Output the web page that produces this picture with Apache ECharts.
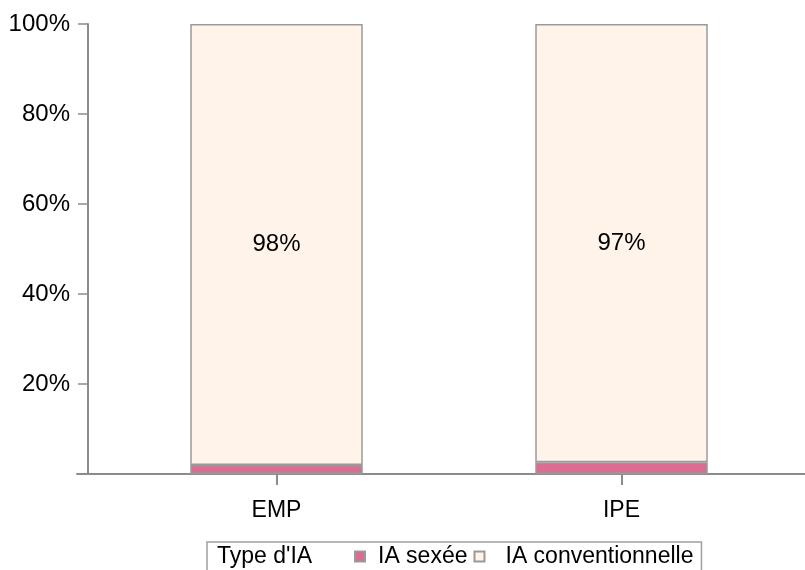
<!DOCTYPE html>
<html>
<head>
<meta charset="utf-8">
<title>Type d'IA</title>
<script src="https://cdn.jsdelivr.net/npm/echarts@6/dist/echarts.min.js"></script>
<style>
	html, body { margin: 0; padding: 0; background: #fff; }
	#chart { width: 805px; height: 570px; }
</style>
</head>
<body>
<div id="chart"></div>
<script>
var categories = ['EMP', 'IPE'];
var seriesNames = ['IA sexée', 'IA conventionnelle'];
var sexeeValues = [2.0, 2.6];
var convValues = [98.0, 97.4];
var yTicks = [0, 20, 40, 60, 80, 100];
var legendTitle = "Type d'IA";

;(function (win) {
	var chart = echarts.init(document.getElementById('chart'));
	var font = 'Liberation Sans, Arial, sans-serif';
	var axisGrey = '#8c8c8c';
	var option = {
		animation: false,
		textStyle: { fontFamily: font },
		title: {
			text: legendTitle,
			left: 212,
			top: 540,
			textStyle: { fontSize: 23, fontWeight: 'normal', color: '#000', fontFamily: font }
		},
		legend: {
			left: 207,
			top: 542,
			padding: [3, 8, 12, 147],
			borderColor: '#a0a0a0',
			borderWidth: 1.5,
			icon: 'rect',
			itemWidth: 10,
			itemHeight: 10,
			itemGap: 6,
			textStyle: { fontSize: 23, color: '#000', fontFamily: font, padding: [0, 0, 0, 8] },
			data: [
				{ name: seriesNames[0] },
				{ name: seriesNames[1], textStyle: { padding: [0, 0, 0, 16] } }
			]
		},
		grid: [
			{ left: 104, right: 11, top: 24, bottom: 96 },
			{ left: 77, right: 0, top: 24, bottom: 96 }
		],
		xAxis: [
			{
				type: 'category',
				gridIndex: 0,
				data: categories,
				axisLine: { show: false },
				axisTick: { show: true, alignWithLabel: true, length: 11, lineStyle: { color: axisGrey, width: 2 } },
				axisLabel: { fontSize: 23, color: '#000', margin: 25, fontFamily: font }
			},
			{
				type: 'value',
				gridIndex: 1,
				min: 0,
				max: 1,
				axisLine: { show: true, lineStyle: { color: axisGrey, width: 2 } },
				axisTick: { show: false },
				axisLabel: { show: false },
				splitLine: { show: false }
			}
		],
		yAxis: [
			{
				type: 'value',
				gridIndex: 0,
				min: yTicks[0],
				max: yTicks[yTicks.length - 1],
				interval: 20,
				offset: 16,
				axisLine: { show: true, lineStyle: { color: axisGrey, width: 2 } },
				axisTick: {
					show: true, length: 10, lineStyle: { color: axisGrey, width: 1.5 },
					customValues: yTicks.slice(1)
				},
				axisLabel: {
					fontSize: 24, color: '#000', margin: 18, fontFamily: font,
					showMinLabel: false,
					formatter: '{value}%'
				},
				splitLine: { show: false }
			},
			{
				type: 'value',
				gridIndex: 1,
				show: false
			}
		],
		series: [
			{
				name: seriesNames[0],
				type: 'bar',
				stack: 'ia',
				barWidth: '50%',
				xAxisIndex: 0,
				yAxisIndex: 0,
				data: sexeeValues,
				itemStyle: { color: '#db6d91', borderColor: '#9a9a9a', borderWidth: 1.5 }
			},
			{
				name: seriesNames[1],
				type: 'bar',
				stack: 'ia',
				barWidth: '50%',
				xAxisIndex: 0,
				yAxisIndex: 0,
				data: convValues,
				itemStyle: { color: '#fff3ea', borderColor: '#9a9a9a', borderWidth: 1.5 },
				label: {
					show: true,
					position: 'inside',
					fontSize: 24,
					color: '#000',
					fontFamily: font,
					formatter: function (p) {
						return Math.round(p.value) + '%';
					}
				}
			}
		]
	};
	chart.setOption(option);
	win.chart = chart;
})(window);
</script>
</body>
</html>
